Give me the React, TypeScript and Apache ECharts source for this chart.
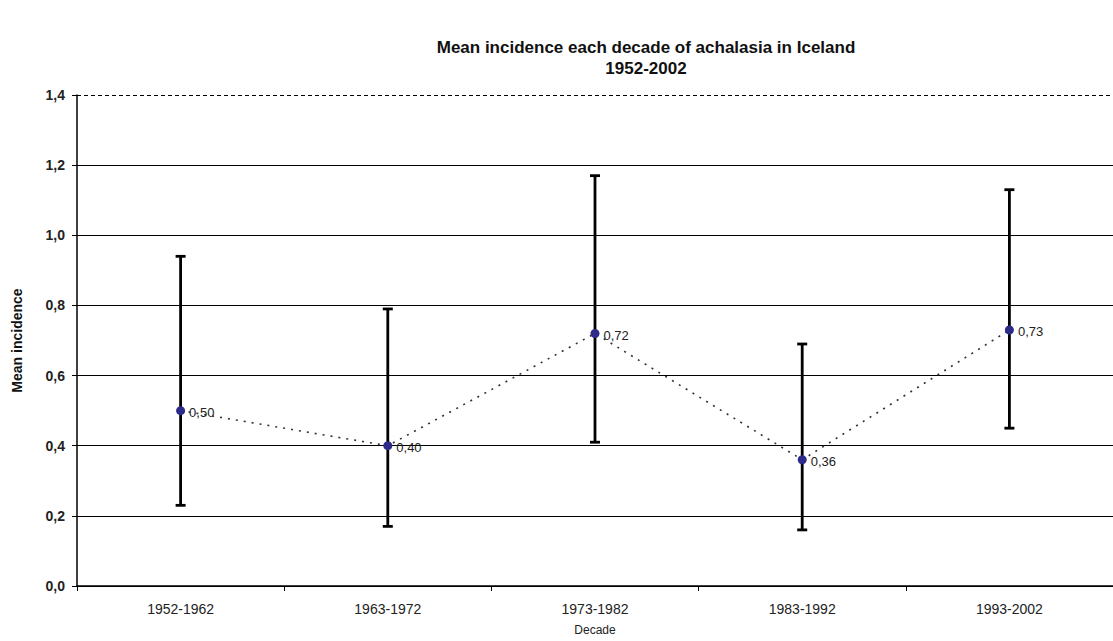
import React, { useEffect, useRef } from "react";
import * as echarts from "echarts";

const categories = ["1952-1962", "1963-1972", "1973-1982", "1983-1992", "1993-2002"];
const means = [0.5, 0.4, 0.72, 0.36, 0.73];
const lowers = [0.23, 0.17, 0.41, 0.16, 0.45];
const uppers = [0.94, 0.79, 1.17, 0.69, 1.13];
const yTicks = [0, 0.2, 0.4, 0.6, 0.8, 1.0, 1.2, 1.4];

const fmt = (v: number, d: number) => v.toFixed(d).replace(".", ",");

export default function App() {
  const ref = useRef<HTMLDivElement>(null);
  useEffect(() => {
    document.body.style.margin = "0";
    const chart = echarts.init(ref.current!, null, { renderer: "svg" });
    const font = "'Liberation Sans', Arial, sans-serif";
    chart.setOption({
      animation: false,
      backgroundColor: "#ffffff",
      title: {
        text: "Mean incidence each decade of achalasia in Iceland\n1952-2002",
        left: 641,
        top: 32,
        textAlign: "center",
        textStyle: { fontFamily: font, fontSize: 17, fontWeight: "bold", color: "#111", lineHeight: 21 },
      },
      grid: { left: 77, top: 95, height: 495, width: 1044 },
      xAxis: {
        type: "category",
        data: categories,
        boundaryGap: true,
        name: "Decade",
        nameLocation: "middle",
        nameGap: 38,
        nameTextStyle: { fontFamily: font, fontSize: 12, color: "#222" },
        axisLine: { lineStyle: { color: "#000", width: 1.5 } },
        axisTick: { show: true, length: 5, lineStyle: { color: "#000" } },
        axisLabel: { fontFamily: font, fontSize: 14, color: "#222", margin: 16 },
        splitLine: { show: false },
      },
      yAxis: {
        type: "value",
        min: 0,
        max: 1.4,
        interval: 0.2,
        name: "Mean incidence",
        nameLocation: "middle",
        nameGap: 53,
        nameRotate: 90,
        nameTextStyle: { fontFamily: font, fontSize: 14, fontWeight: "bold", color: "#111" },
        axisLine: { show: true, lineStyle: { color: "#000", width: 1.5 } },
        axisTick: { show: true, length: 5, lineStyle: { color: "#000" } },
        axisLabel: {
          fontFamily: font,
          fontSize: 14,
          fontWeight: "bold",
          color: "#222",
          margin: 12,
          formatter: (v: number) => (yTicks.some((t) => Math.abs(t - v) < 1e-6) ? fmt(v, 1) : ""),
        },
        splitLine: { show: true, showMaxLine: false, lineStyle: { color: "#000", width: 1.2 } },
      },
      series: [
        {
          type: "custom",
          z: 3,
          data: categories.map((_, i) => [i, lowers[i], uppers[i]]),
          renderItem: (params: any, api: any) => {
            const lo = api.coord([api.value(0), api.value(1)]);
            const hi = api.coord([api.value(0), api.value(2)]);
            const cap = 5;
            const style = { stroke: "#000", lineWidth: 2.8 };
            return {
              type: "group",
              children: [
                { type: "line", shape: { x1: hi[0], y1: hi[1], x2: lo[0], y2: lo[1] }, style },
                { type: "line", shape: { x1: hi[0] - cap, y1: hi[1], x2: hi[0] + cap, y2: hi[1] }, style },
                { type: "line", shape: { x1: lo[0] - cap, y1: lo[1], x2: lo[0] + cap, y2: lo[1] }, style },
              ],
            };
          },
        },
        {
          type: "line",
          z: 5,
          data: means,
          symbol: "circle",
          symbolSize: 9,
          itemStyle: { color: "#2d2a8a" },
          lineStyle: { color: "#333", width: 1.6, type: [2, 6] },
          label: {
            show: true,
            position: "right",
            distance: 4,
            fontFamily: font,
            fontSize: 13,
            color: "#222",
            offset: [0, 2],
            formatter: (p: any) => fmt(p.value, 2),
          },
          markLine: {
            silent: true,
            symbol: "none",
            label: { show: false },
            lineStyle: { color: "#000", type: [4, 3], width: 1.2 },
            data: [{ yAxis: 1.4 }],
          },
        },
      ],
    });
    return () => chart.dispose();
  }, []);
  return <div ref={ref} style={{ width: 1113, height: 641 }} />;
}
